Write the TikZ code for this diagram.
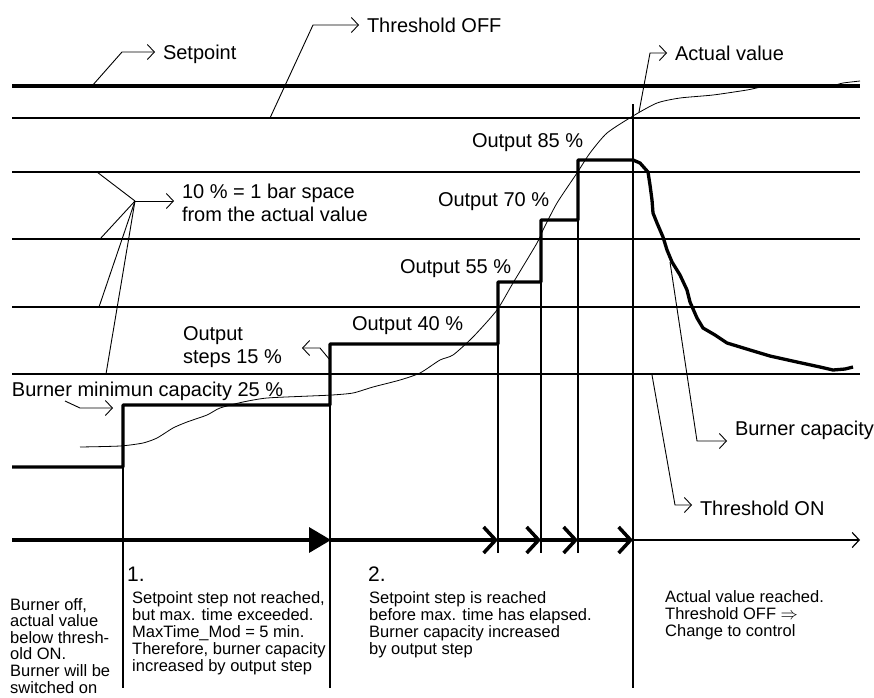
\documentclass[tikz,border=0pt]{standalone}
\usepackage{fontspec}
\setmainfont{Liberation Sans}
\usetikzlibrary{arrows.meta, positioning, calc}

\begin{document}
\begin{tikzpicture}[x=1pt, y=-1pt, >={Straight Barb[length=7pt,width=15pt]},
        grid/.style={line width=1.2pt},
        lead/.style={line width=0.9pt, ->},
        lbl/.style={font={\fontsize{20}{23}\selectfont}, inner sep=0pt, outer xsep=8pt, align=left, anchor=base west},
        note/.style={font={\fontsize{16.5}{17}\selectfont}, inner sep=0pt, align=left, anchor=base west},
        capline/.style={line width=3.3pt, line join=round},
        taxis/.style={line width=3.5pt}]
        \useasboundingbox (0,0) rectangle (874,697);
        % Setpoint and bar lines
        \draw[line width=4pt] (12,86) -- (860,86);
        \foreach \y in {118,172,239,307,374}
            \draw[grid] (12,\y) -- (860,\y);
        % Time marks
        \draw[grid] (123,405) -- (123,688);
        \draw[grid] (330,344) -- (330,688);
        \draw[grid] (498,344) -- (498,553);
        \draw[grid] (541,282) -- (541,553);
        \draw[grid] (578,220) -- (578,553);
        \draw[grid] (633,104) -- (633,688);
        % Actual value
        \draw[line width=0.8pt] plot[smooth, tension=0.4] coordinates {(80,447) (120,446) (143,443) (157,438) (173,428) (187,422) (207,415) (220,408) (243,402) (267,398) (310,396) (332,395) (353,393) (373,387) (400,380) (420,373) (440,360) (453,355) (473,337) (497,310) (513,283) (537,243) (543,230) (557,203) (577,173) (590,153) (607,133) (633,116) (657,103) (680,98) (713,95) (747,90) (763,87) (797,87) (830,86) (843,83) (860,81)};
        % Burner capacity
        \draw[capline] (12,467) -| (123,405) -| (330,344) -| (498,282) -| (541,220) -| (578,160) -- (633,160) -- (640,163) -- (648,172) -- (650,185) -- (652,200) -- (653,213) -- (657,223) -- (663,237) -- (667,250) -- (672,262) -- (680,275) -- (687,290) -- (690,302) -- (697,318) -- (703,328) -- (715,335) -- (727,343) -- (750,350) -- (770,356) -- (797,362) -- (820,367) -- (833,370) -- (845,369) -- (853,367);
        % Time axis
        \coordinate (t0) at (12,540);
        \coordinate (t1) at (331,540);
        \coordinate (t2) at (498,540);
        \coordinate (t3) at (541,540);
        \coordinate (t4) at (578,540);
        \coordinate (t5) at (633,540);
        \coordinate (t6) at (860,540);
        \draw[taxis, -{Triangle[length=22pt,width=25pt]}] (t0) -- (t1);
        \foreach \a/\b in {t1/t2, t2/t3, t3/t4, t4/t5}
            \draw[taxis, -{Straight Barb[length=12pt,width=26pt]}] (\a) -- (\b);
        \draw[grid, ->] (t5) -- (t6);
        % Labels
        \node[lbl] (setpoint) at (155,59) {Setpoint};
        \node[lbl] (thoff) at (359,32) {Threshold OFF};
        \node[lbl] (actual) at (667,60) {Actual value};
        \node[lbl] (barspace) at (174,221) {10 \% = 1 bar space\\from the actual value};
        \node[lbl] (out85) at (464,147) {Output 85 \%};
        \node[lbl] (out70) at (430,206) {Output 70 \%};
        \node[lbl] (out55) at (392,273) {Output 55 \%};
        \node[lbl] (out40) at (344,330) {Output 40 \%};
        \node[lbl] (steps) at (175,363) {Output\\steps 15 \%};
        \node[lbl] (minimum) at (4,396) {Burner minimun capacity 25 \%};
        \node[lbl] (capacity) at (727,435) {Burner capacity};
        \node[lbl] (thon) at (692,515) {Threshold ON};
        % Leaders
        \coordinate (sp1) at (92,86);
        \coordinate (sp2) at (122,52);
        \draw[lead] (sp1) -- (sp2) -- (sp2 -| setpoint.west);
        \coordinate (to1) at (270,118);
        \coordinate (to2) at (313,25);
        \draw[lead] (to1) -- (to2) -- (to2 -| thoff.west);
        \coordinate (av1) at (639,112);
        \coordinate (av2) at (650,53);
        \draw[lead] (av1) -- (av2) -- (av2 -| actual.west);
        \coordinate (bar-p) at (135,201);
        \foreach \x/\y [count=\i] in {97/172, 100/239, 99/307, 106/374} {
            \coordinate (bar\i) at (\x,\y);
            \draw[line width=0.9pt] (bar\i) -- (bar-p);
        }
        \draw[lead] (bar-p) -- (bar-p -| barspace.west);
        \coordinate (st1) at (330,360);
        \coordinate (st2) at (320,348);
        \coordinate (st3) at (302,348);
        \draw[lead] (st1) -- (st2) -- (st3);
        \coordinate (mc1) at (65,401);
        \coordinate (mc2) at (80,408);
        \coordinate (mc3) at (113,408);
        \draw[lead] (mc1) -- (mc2) -- (mc3);
        \coordinate (bc1) at (670,262);
        \coordinate (bc2) at (697,441);
        \draw[lead] (bc1) -- (bc2) -- (bc2 -| capacity.west);
        \coordinate (tn1) at (652,375);
        \coordinate (tn2) at (675,505);
        \draw[lead] (tn1) -- (tn2) -- (tn2 -| thon.west);
        % Phase notes
        \node[note, font={\fontsize{21}{24}\selectfont}] (one) at (127,581) {1.};
        \node[note, font={\fontsize{21}{24}\selectfont}] (two) at (368,581) {2.};
        \node[note, font={\fontsize{16.5}{16.6}\selectfont}] (off) at (10,693) {Burner off,\\actual value\\below thresh-\\old ON.\\Burner will be\\switched on};
        \node[note] (phase1) at (132,671) {Setpoint step not reached,\\but max. time exceeded.\\MaxTime\_Mod = 5 min.\\Therefore, burner capacity\\increased by output step};
        \node[note] (phase2) at (369,654) {Setpoint step is reached\\before max. time has elapsed.\\Burner capacity increased\\by output step};
        \node[note] (reached) at (665,636) {Actual value reached.\\Threshold OFF $\Rightarrow$\\Change to control};
\end{tikzpicture}
\end{document}
